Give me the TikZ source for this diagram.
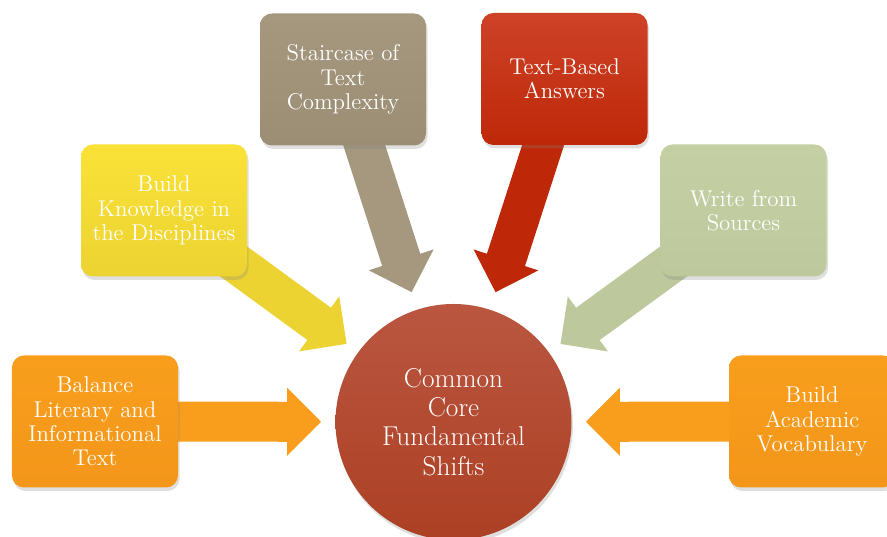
\documentclass[tikz,border=0pt]{standalone}
\usepackage{tikz}
\usetikzlibrary{arrows.meta, shadows, backgrounds}
\usepackage{xcolor}
\definecolor{ShiftOrange}{RGB}{248,158,28}
\definecolor{ShiftOrangeDark}{RGB}{243,150,26}
\definecolor{ShiftYellow}{RGB}{250,226,56}
\definecolor{ShiftYellowDark}{RGB}{236,211,50}
\definecolor{ShiftTaupe}{RGB}{165,152,127}
\definecolor{ShiftTaupeDark}{RGB}{155,142,117}
\definecolor{ShiftRed}{RGB}{206,66,40}
\definecolor{ShiftRedDark}{RGB}{190,40,8}
\definecolor{ShiftSage}{RGB}{197,207,164}
\definecolor{ShiftSageDark}{RGB}{189,201,156}
\definecolor{HubTop}{RGB}{186,86,64}
\definecolor{HubBottom}{RGB}{172,64,36}

\begin{document}
\begin{tikzpicture}[
    box/.style={rectangle, rounded corners=0.24cm, minimum width=3.32cm, minimum height=2.64cm, inner sep=0pt, align=center, text=white, font=\fontsize{13}{13.8}\selectfont, drop shadow={opacity=0.25, shadow xshift=0.03cm, shadow yshift=-0.07cm}},
    hub/.style={circle, minimum size=4.72cm, inner sep=0pt, align=center, text=white, font=\fontsize{15.5}{16.6}\selectfont, top color=HubTop, bottom color=HubBottom, drop shadow={opacity=0.25, shadow xshift=0.03cm, shadow yshift=-0.07cm}},
    arrow/.style={line width=0.8cm, -{Triangle[length=0.68cm, width=1.32cm]}, shorten >=0.28cm}
  ]
  \useasboundingbox (0,0) rectangle (17.74,10.74);
  \clip (0,0) rectangle (17.74,10.74);

  \node (shifts) [hub] at (9.07,2.30) {Common\\Core\\Fundamental\\Shifts};

  \node (balance) [box, top color=ShiftOrange, bottom color=ShiftOrangeDark] at (1.90,2.31) {Balance\\Literary and\\Informational\\Text};
  \node (knowledge) [box, top color=ShiftYellow, bottom color=ShiftYellowDark] at (3.28,6.53) {Build\\Knowledge in\\the Disciplines};
  \node (staircase) [box, top color=ShiftTaupe, bottom color=ShiftTaupeDark] at (6.86,9.15) {Staircase of\\Text\\Complexity};
  \node (answers) [box, top color=ShiftRed, bottom color=ShiftRedDark] at (11.29,9.16) {Text-Based\\Answers};
  \node (sources) [box, top color=ShiftSage, bottom color=ShiftSageDark] at (14.87,6.53) {Write from\\Sources};
  \node (vocab) [box, top color=ShiftOrange, bottom color=ShiftOrangeDark] at (16.24,2.31) {Build\\Academic\\Vocabulary};

  % block arrows sit behind the boxes
  \begin{scope}[on background layer]
    \draw [arrow, ShiftOrange] (balance.center) -- (shifts);
    \draw [arrow, ShiftYellowDark] (knowledge.center) -- (shifts);
    \draw [arrow, ShiftTaupe, shorten >=0.36cm] (staircase.center) -- (shifts);
    \draw [arrow, ShiftRedDark, shorten >=0.36cm] (answers.center) -- (shifts);
    \draw [arrow, ShiftSageDark] (sources.center) -- (shifts);
    \draw [arrow, ShiftOrange] (vocab.center) -- (shifts);
  \end{scope}
\end{tikzpicture}
\end{document}
